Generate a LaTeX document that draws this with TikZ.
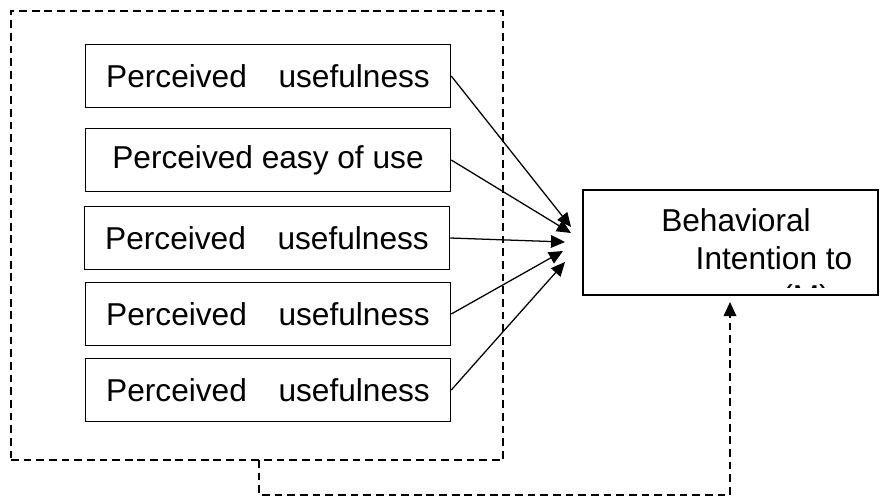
\documentclass[tikz,border=0pt]{standalone}
\usepackage{fontspec}
\setmainfont{Liberation Sans}
\usetikzlibrary{arrows.meta, positioning}
\tikzset{
  box/.style={draw=black, line width=1pt, minimum width=9.125cm, minimum height=1.575cm,
              inner sep=0pt, font=\fontsize{22.5}{27}\selectfont},
  flow/.style={-{Triangle[length=10pt, width=9pt]}, line width=0.9pt},
  dashline/.style={line width=1pt, dash pattern=on 5.5pt off 3.5pt},
  lbl/.style={font=\fontsize{22.5}{27}\selectfont, inner sep=0pt, anchor=base},
}
\begin{document}
\begin{tikzpicture}[x=0.025cm, y=-0.025cm]
  \useasboundingbox (0,0) rectangle (880,502);
  % factor boxes
  \node[box] (pu1) at (268,76) {Perceived\quad usefulness};
  \node[box] (peu) at (268,160) {Perceived easy of use};
  \node[box] (pu2) at (267,238) {Perceived\quad usefulness};
  \node[box] (pu3) at (268,314) {Perceived\quad usefulness};
  \node[box] (pu4) at (268,390) {Perceived\quad usefulness};
  % intention box
  \node[box, minimum width=7.375cm, minimum height=2.625cm] (bi) at (730.5,242.5) {};
  \begin{scope}
    \clip (bi.north west) rectangle (878,287);
    \node[lbl] (bil1) at (736,231) {Behavioral};
    \node[lbl] (bil2) at (774,269) {Intention to};
    \node[lbl] (bil3) at (806,307) {(M)};
  \end{scope}
  % dashed group
  \node[dashline, draw, minimum width=12.3cm, minimum height=11.225cm, inner sep=0pt] (grp) at (257,235.5) {};
  \coordinate (t1) at (571,227);
  \coordinate (t2) at (571,233);
  \coordinate (t3) at (565,242);
  \coordinate (t4) at (563,251);
  \coordinate (t5) at (565,262);
  \coordinate (d0) at (259,460);
  \coordinate (d1) at (259,495);
  \coordinate (d2) at (730,495);
  \coordinate (d3) at (730,302);

  \draw[flow] (pu1.east) -- (t1);
  \draw[flow] (peu.east) -- (t2);
  \draw[flow] (pu2.east) -- (t3);
  \draw[flow] (pu3.east) -- (t4);
  \draw[flow] (pu4.east) -- (t5);
  \draw[dashline, -{Triangle[length=10pt, width=9pt]}] (d0) -- (d1) -- (d2) -- (d3);
\end{tikzpicture}
\end{document}
